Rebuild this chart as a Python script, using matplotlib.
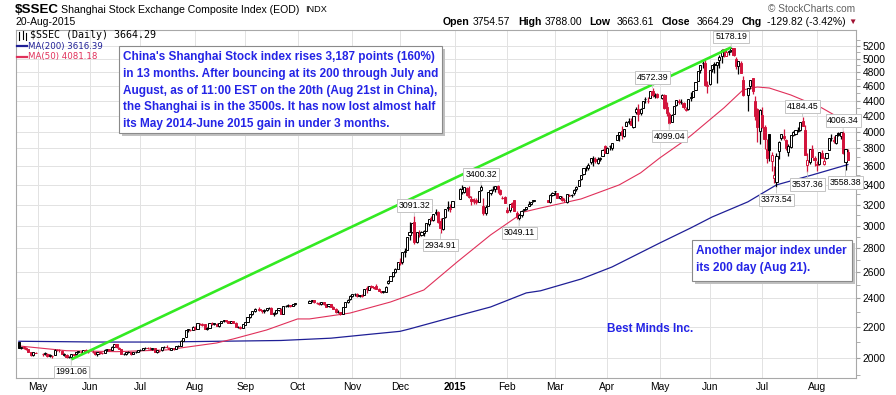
import numpy as np
import pandas as pd
import matplotlib
matplotlib.use("Agg")
import matplotlib.pyplot as plt
from matplotlib.patches import Rectangle
from matplotlib.lines import Line2D
from matplotlib.ticker import FixedLocator, NullFormatter

plt.rcParams['font.family'] = ['Liberation Sans', 'DejaVu Sans']

# dias de mercado cerrado (feriados chinos) dentro del rango
feriados = ['2014-05-01', '2014-05-02', '2014-06-02', '2014-09-08',
            '2014-10-01', '2014-10-02', '2014-10-03', '2014-10-06', '2014-10-07',
            '2015-01-01', '2015-01-02', '2015-02-18', '2015-02-19', '2015-02-20',
            '2015-02-23', '2015-02-24', '2015-04-06', '2015-05-01', '2015-06-22']

# OHLC diario, un renglon por mes (abr-2014 .. ago-2015)
opens = [
    2098, 2062, 2066, 2060, 2055, 2034, 2019, 2033,
    2022, 2026, 2027, 2010, 2015, 2020, 2050, 2049, 2046, 2021, 2020, 2004, 2005, 2023, 2022, 2035, 2040, 2033, 2049, 2040,
    2040, 2037, 2024, 2034, 2029, 2030, 2052, 2054, 2050, 2070, 2086, 2065, 2055, 2023, 2025, 2034, 2037, 2026, 2037, 2037,
    2048, 2050, 2059, 2062, 2058, 2057, 2059, 2037, 2046, 2047, 2066, 2071, 2065, 2052, 2059, 2055, 2076, 2077, 2109, 2131, 2178, 2182, 2182,
    2197, 2188, 2221, 2215, 2217, 2186, 2195, 2224, 2219, 2222, 2204, 2227, 2240, 2244, 2238, 2228, 2240, 2227, 2198, 2200, 2195,
    2215, 2234, 2266, 2287, 2307, 2327, 2314, 2308, 2318, 2330, 2331, 2288, 2295, 2316, 2327, 2291, 2342, 2346, 2349, 2348, 2358,
    2369, 2384, 2385, 2370, 2366, 2358, 2371, 2356, 2342, 2356, 2339, 2325, 2303, 2301, 2291, 2338, 2372, 2393,
    2420, 2430, 2431, 2417, 2425, 2425, 2475, 2466, 2494, 2484, 2496, 2473, 2455, 2447, 2451, 2514, 2532, 2568, 2605, 2630,
    2679, 2680, 2766, 2783, 2913, 2945, 3029, 2850, 2926, 2918, 2933, 2950, 3013, 3075, 3055, 3120, 3123, 3040, 2973, 3077, 3177, 3155, 3173,
    3258, 3330, 3326, 3371, 3276, 3259, 3224, 3243, 3224, 3343, 3189, 3119, 3189, 3318, 3357, 3357, 3391, 3346, 3266, 3274,
    3148, 3142, 3213, 3242, 3121, 3069, 3096, 3145, 3158, 3186, 3209, 3232, 3248, 3222, 3299,
    3332, 3317, 3264, 3264, 3248, 3224, 3289, 3291, 3313, 3358, 3391, 3464, 3513, 3583, 3578, 3640, 3693, 3683, 3637, 3676, 3710, 3823,
    3748, 3828, 3803, 3899, 3962, 4004, 3947, 4072, 4125, 4134, 4052, 4247, 4288, 4234, 4304, 4415, 4394, 4441, 4535, 4458, 4483,
    4441, 4480, 4311, 4222, 4126, 4221, 4341, 4393, 4385, 4366, 4277, 4285, 4430, 4445, 4548, 4673, 4833, 4933, 4943, 4603,
    4633, 4845, 4924, 4912, 4985, 5045, 5145, 5050, 5102, 5144, 5174, 5004, 4890, 4942, 4690, 4471, 4604, 4711, 4400, 4289, 4006,
    4214, 4058, 3793, 3975, 3654, 3467, 3433, 3772, 3924, 3951, 3895, 3757, 3811, 3961, 3969, 4013, 4022, 4127, 4019, 3612, 3644, 3794, 3688,
    3614, 3621, 3750, 3627, 3690, 3786, 3920, 3904, 3862, 3986, 3946, 3987, 3646, 3754.57]
highs = [
    2099, 2070, 2073, 2068, 2058, 2036, 2035, 2039,
    2030, 2034, 2029, 2026, 2020, 2053, 2056, 2056, 2048, 2030, 2022, 2014, 2026, 2027, 2036, 2044, 2042, 2052, 2053, 2045,
    2047, 2039, 2036, 2038, 2034, 2054, 2058, 2057, 2072, 2090, 2088, 2068, 2057, 2031, 2035, 2044, 2039, 2040, 2042, 2052,
    2055, 2063, 2067, 2066, 2067, 2063, 2062, 2050, 2052, 2069, 2074, 2078, 2068, 2063, 2063, 2077, 2082, 2110, 2129, 2178, 2186, 2187, 2203,
    2204, 2224, 2227, 2225, 2220, 2198, 2226, 2230, 2228, 2229, 2227, 2243, 2248, 2248, 2242, 2243, 2243, 2230, 2206, 2203, 2219,
    2236, 2267, 2291, 2308, 2328, 2335, 2318, 2322, 2333, 2340, 2335, 2302, 2318, 2331, 2329, 2344, 2349, 2356, 2355, 2361, 2368,
    2391, 2392, 2387, 2377, 2373, 2376, 2377, 2361, 2361, 2359, 2345, 2329, 2313, 2304, 2338, 2376, 2394, 2423,
    2435, 2437, 2442, 2428, 2430, 2474, 2495, 2495, 2504, 2489, 2507, 2478, 2458, 2457, 2490, 2538, 2568, 2606, 2631, 2685,
    2717, 2763, 2800, 2900, 3030, 3022, 3091.32, 2941, 2964, 2951, 2958, 3023, 3064, 3085, 3110, 3157, 3136, 3069, 3074, 3158, 3239, 3206, 3239,
    3369, 3394, 3374, 3374, 3389, 3283, 3260, 3266, 3337, 3400.32, 3262, 3196, 3325, 3354, 3387, 3384, 3395, 3358, 3289, 3288,
    3176, 3205, 3226, 3244, 3141, 3104, 3142, 3160, 3177, 3231, 3229, 3247, 3249, 3300, 3325,
    3336, 3317, 3286, 3280, 3265, 3305, 3300, 3305, 3357, 3384, 3449, 3503, 3578, 3600, 3632, 3689, 3715, 3703, 3704, 3706, 3795, 3835,
    3817, 3835, 3866, 3961, 4000, 4069, 4034, 4128, 4168, 4175, 4195, 4317, 4356, 4300, 4398, 4444, 4442, 4529, 4572.39, 4499, 4504,
    4488, 4490, 4387, 4243, 4218, 4333, 4402, 4415, 4420, 4382, 4319, 4417, 4510, 4531, 4658, 4814, 4911, 4959, 4986, 4668,
    4829, 4911, 4951, 4947, 5052, 5147, 5147, 5164, 5129, 5178.19, 5176, 5029, 4968, 4966, 4744, 4577, 4691, 4720, 4456, 4297, 4287,
    4317, 4081, 3916, 3975, 3762, 3606, 3748, 3885, 3976, 4030, 3916, 3856, 3958, 4006, 4025, 4058, 4125, 4184.45, 4084, 3749, 3789, 3840, 3718,
    3654, 3757, 3782, 3696, 3747, 3929, 3970, 3944, 3955, 4000, 3994, 4006.34, 3794, 3788.00]
lows = [
    2064, 2053, 2055, 2050, 2034, 2011, 2014, 2028,
    2014, 2019, 2008, 2004, 2002, 2018, 2043, 2040, 2022, 2013, 2002, 2000, 1991.06, 2013, 2018, 2031, 2030, 2030, 2037, 2033,
    2032, 2021, 2015, 2026, 2022, 2029, 2046, 2044, 2049, 2066, 2063, 2053, 2022, 2016, 2017, 2030, 2020, 2024, 2029, 2035,
    2043, 2048, 2055, 2055, 2053, 2048, 2036, 2033, 2038, 2045, 2060, 2062, 2051, 2048, 2049, 2053, 2070, 2076, 2104, 2130, 2168, 2173, 2179,
    2180, 2185, 2210, 2205, 2185, 2180, 2194, 2213, 2212, 2204, 2201, 2223, 2234, 2233, 2224, 2225, 2227, 2196, 2193, 2187, 2194,
    2212, 2231, 2262, 2282, 2303, 2310, 2292, 2298, 2310, 2323, 2288, 2276, 2290, 2309, 2288, 2290, 2335, 2340, 2336, 2343, 2352,
    2366, 2375, 2365, 2358, 2351, 2353, 2350, 2336, 2338, 2337, 2325, 2298, 2295, 2281, 2289, 2336, 2368, 2392,
    2413, 2418, 2407, 2410, 2411, 2423, 2442, 2462, 2478, 2470, 2473, 2455, 2440, 2442, 2449, 2505, 2528, 2565, 2593, 2626,
    2662, 2669, 2726, 2780, 2872, 2930, 2834, 2843, 2897, 2906, 2910, 2949, 2995, 3038, 3040, 3097, 3023, 2934.91, 2964, 3070, 3139, 3131, 3173,
    3253, 3303, 3312, 3285, 3267, 3191, 3208, 3208, 3224, 3339, 3095, 3102, 3188, 3295, 3333, 3327, 3318, 3295, 3250, 3210,
    3116, 3130, 3172, 3136, 3065, 3049.11, 3083, 3139, 3148, 3183, 3200, 3227, 3222, 3210, 3287,
    3298, 3260, 3250, 3234, 3226, 3218, 3281, 3275, 3290, 3340, 3385, 3450, 3503, 3546, 3559, 3628, 3600, 3630, 3625, 3660, 3710, 3742,
    3743, 3783, 3785, 3899, 3892, 3912, 3936, 4072, 4098, 4084, 4044, 4221, 4137, 4213, 4294, 4373, 4364, 4441, 4445, 4432, 4441,
    4415, 4282, 4198, 4099.04, 4126, 4217, 4323, 4351, 4357, 4290, 4263, 4273, 4397, 4445, 4540, 4673, 4794, 4866, 4598, 4496,
    4616, 4797, 4781, 4647, 4855, 4942, 5035, 5050, 5060, 5103, 5048, 4842, 4767, 4780, 4459, 4264, 4552, 4483, 4140, 3876, 3848,
    4043, 3795, 3629, 3654, 3541, 3421, 3373.54, 3675, 3903, 3895, 3782, 3714, 3810, 3943, 3958, 3998, 4009, 4069, 3726, 3537.36, 3626, 3704, 3600,
    3549, 3617, 3691, 3617, 3675, 3786, 3891, 3863, 3846, 3942, 3913, 3741, 3558.38, 3663.61]
closes = [
    2065, 2067, 2060, 2056, 2036, 2020, 2034, 2033,
    2027, 2028, 2010, 2016, 2011, 2052, 2050, 2047, 2024, 2026, 2005, 2008, 2024, 2021, 2034, 2041, 2034, 2050, 2040, 2039,
    2038, 2024, 2035, 2030, 2029, 2052, 2054, 2051, 2070, 2087, 2066, 2056, 2024, 2026, 2034, 2038, 2025, 2036, 2036, 2048,
    2050, 2060, 2063, 2059, 2057, 2060, 2038, 2047, 2046, 2067, 2071, 2066, 2055, 2060, 2055, 2076, 2076, 2109, 2127, 2177, 2183, 2182, 2201,
    2186, 2223, 2219, 2218, 2187, 2194, 2225, 2220, 2223, 2206, 2226, 2241, 2245, 2240, 2229, 2241, 2229, 2197, 2201, 2195, 2217,
    2235, 2266, 2288, 2306, 2326, 2318, 2307, 2319, 2331, 2333, 2290, 2296, 2315, 2329, 2290, 2343, 2345, 2350, 2347, 2357, 2364,
    2383, 2389, 2374, 2366, 2359, 2373, 2357, 2341, 2357, 2339, 2327, 2302, 2302, 2290, 2337, 2373, 2391, 2420,
    2430, 2430, 2419, 2425, 2418, 2473, 2469, 2494, 2485, 2478, 2474, 2456, 2450, 2452, 2487, 2533, 2567, 2604, 2630, 2683,
    2680, 2763, 2779, 2899, 2938, 3020, 2856, 2940, 2925, 2938, 2953, 3021, 3061, 3058, 3108, 3128, 3032, 2977, 3073, 3157, 3169, 3166, 3235,
    3351, 3352, 3374, 3294, 3285, 3230, 3223, 3222, 3336, 3376, 3116, 3173, 3323, 3343, 3351, 3383, 3352, 3305, 3262, 3210,
    3128, 3204, 3174, 3136, 3076, 3095, 3141, 3158, 3173, 3203, 3223, 3246, 3228, 3298, 3311,
    3336, 3263, 3280, 3248, 3241, 3302, 3286, 3290, 3349, 3372, 3449, 3502, 3577, 3582, 3617, 3687, 3691, 3661, 3683, 3691, 3786, 3748,
    3810, 3825, 3863, 3961, 3995, 3957, 4034, 4121, 4135, 4084, 4194, 4287, 4217, 4293, 4398, 4414, 4393, 4527, 4476, 4476, 4442,
    4480, 4298, 4229, 4112, 4205, 4333, 4401, 4375, 4378, 4308, 4283, 4417, 4446, 4529, 4657, 4813, 4910, 4942, 4621, 4611,
    4828, 4910, 4910, 4947, 5023, 5131, 5113, 5106, 5121, 5166, 5062, 4887, 4967, 4785, 4478, 4576, 4691, 4527, 4193, 4053, 4277,
    4053, 3912, 3687, 3776, 3727, 3507, 3710, 3877, 3970, 3924, 3805, 3823, 3957, 3992, 4017, 4026, 4124, 4070, 3725, 3663, 3789, 3705, 3664,
    3623, 3756, 3695, 3661, 3744, 3928, 3928, 3887, 3955, 3965, 3993, 3749, 3794, 3664.29]

# medias moviles
ma200_fechas = ['2014-04-21', '2014-06-06', '2014-07-11', '2014-08-15', '2014-09-22', '2014-10-21',
                '2014-11-12', '2014-12-01', '2014-12-05', '2015-01-02', '2015-01-22', '2015-02-12',
                '2015-02-20', '2015-03-17', '2015-04-03', '2015-05-01', '2015-05-20', '2015-06-02',
                '2015-06-23', '2015-07-09', '2015-07-30', '2015-08-20']
ma200_valores = [2105, 2100, 2100, 2105, 2110, 2125, 2150, 2170, 2186, 2275, 2338, 2441,
                 2457, 2547, 2643, 2844, 2978, 3080, 3226, 3398, 3503, 3616.39]
ma50_fechas = ['2014-04-21', '2014-05-19', '2014-06-17', '2014-07-16', '2014-08-14', '2014-08-25',
               '2014-09-12', '2014-10-01', '2014-10-08', '2014-10-31', '2014-11-25', '2014-12-15',
               '2015-01-02', '2015-01-22', '2015-02-11', '2015-02-20', '2015-03-17', '2015-04-08',
               '2015-04-21', '2015-05-01', '2015-05-14', '2015-05-20', '2015-06-09', '2015-06-19',
               '2015-06-29', '2015-07-06', '2015-07-17', '2015-08-05', '2015-08-18', '2015-08-20']
ma50_valores = [2075, 2045, 2039, 2050, 2094, 2120, 2179, 2254, 2254, 2295, 2374, 2463,
                2684, 2915, 3128, 3166, 3255, 3398, 3526, 3690, 3864, 3950, 4303, 4546,
                4586, 4572, 4476, 4303, 4145, 4081.18]

# maximos / minimos marcados
pivot_fechas = ['2014-05-21', '2014-12-09', '2014-12-24', '2015-01-16', '2015-02-09', '2015-04-28',
                '2015-05-07', '2015-06-12', '2015-07-09', '2015-07-24', '2015-07-28', '2015-08-18',
                '2015-08-19']
pivot_valores = [1991.06, 3091.32, 2934.91, 3400.32, 3049.11, 4572.39,
                 4099.04, 5178.19, 3373.54, 4184.45, 3537.36, 4006.34, 3558.38]
pivot_tipo = ['lo', 'hi', 'lo', 'hi', 'lo', 'hi', 'lo', 'hi', 'lo', 'hi', 'lo', 'hi', 'lo']

tendencia_fechas = ['2014-05-21', '2015-06-12']
tendencia_valores = [1991.06, 5178.19]

meses = ['May', 'Jun', 'Jul', 'Aug', 'Sep', 'Oct', 'Nov', 'Dec', '2015',
         'Feb', 'Mar', 'Apr', 'May', 'Jun', 'Jul', 'Aug']
meses_inicio = ['2014-05-01', '2014-06-01', '2014-07-01', '2014-08-01', '2014-09-01', '2014-10-01',
                '2014-11-01', '2014-12-01', '2015-01-01', '2015-02-01', '2015-03-01', '2015-04-01',
                '2015-05-01', '2015-06-01', '2015-07-01', '2015-08-01']

# --- posiciones: un lugar por dia habil (los feriados quedan como hueco)
dias = pd.bdate_range('2014-04-21', '2015-08-20')
pos = {d: i for i, d in enumerate(dias)}
operados = dias[~dias.isin(pd.to_datetime(feriados))]
assert len(operados) == len(closes) == len(opens) == len(highs) == len(lows)

def xpos(fechas):
    return np.array([pos[pd.Timestamp(f)] for f in fechas])

x = np.array([pos[d] for d in operados])
o = np.array(opens, float); h = np.array(highs, float)
l = np.array(lows, float); c = np.array(closes, float)

W, H = 896, 395
def fx(px): return px / W
def fy(py): return 1 - py / H

fig = plt.figure(figsize=(W / 100, H / 100), dpi=100)
ax = fig.add_axes([fx(16), fy(378), fx(856) - fx(16), fy(30) - fy(378)])
ax.set_yscale('log')

ROJO = '#d3143c'
prev = np.r_[c[0], c[:-1]]
col = np.where(c < prev, ROJO, 'black')
cara = np.where(c < o, col, 'white')

ax.vlines(x, l, h, colors=col, lw=0.9, zorder=3)
ax.bar(x, np.abs(c - o), bottom=np.minimum(o, c), width=0.9, color=cara,
       edgecolor=col, linewidth=0.7, zorder=4)

ax.plot(xpos(ma200_fechas), ma200_valores, color='#1f1f96', lw=0.9, zorder=2)
ax.plot(xpos(ma50_fechas), ma50_valores, color='#e0305a', lw=0.8, zorder=2)
ax.plot(xpos(tendencia_fechas), tendencia_valores, color='#33ea22', lw=1.9, zorder=5,
        solid_capstyle='butt')

for f, v, t in zip(pivot_fechas, pivot_valores, pivot_tipo):
    dy = 7.5 if t == 'hi' else -9
    ax.annotate(f'{v:.2f}', xy=(pos[pd.Timestamp(f)], v), xytext=(0, dy),
                textcoords='offset points', ha='center', va='center', fontsize=6.3,
                bbox=dict(boxstyle='square,pad=0.2', fc='white', ec='#c4c4c4', lw=0.7),
                arrowprops=dict(arrowstyle='-', color='#c4c4c4', lw=0.6, shrinkA=0, shrinkB=0),
                annotation_clip=False, zorder=7)

# ejes
ax.set_xlim(-1.2, 351.4)
ax.set_ylim(1881, 5461)
ax.yaxis.tick_right()
ax.yaxis.set_major_locator(FixedLocator(np.arange(2000, 5201, 200)))
ax.yaxis.set_minor_locator(FixedLocator(np.arange(1900, 5500, 200)))
ax.yaxis.set_major_formatter(matplotlib.ticker.FuncFormatter(lambda v, p: f'{v:.0f}'))
ax.yaxis.set_minor_formatter(NullFormatter())
ax.tick_params(axis='y', which='both', labelsize=7.4, length=3, color='#a0a0a0', pad=2)
ax.set_xticks(xpos([pd.Timestamp(m) + pd.offsets.BDay(0) for m in meses_inicio]))
ax.set_xticklabels(meses)
ax.tick_params(axis='x', length=0, labelsize=7.4, pad=3)
for t in ax.get_xticklabels():
    if t.get_text() == '2015':
        t.set_fontweight('bold')
ax.grid(True, which='major', color='#e2e2e2', lw=0.7, zorder=0)
for s in ax.spines.values():
    s.set_color('#a8a8a8')
    s.set_linewidth(0.8)

# encabezado
fig.text(fx(15), fy(10), '$SSEC', fontsize=9.6, fontweight='bold', va='center')
fig.text(fx(61), fy(10), 'Shanghai Stock Exchange Composite Index (EOD)', fontsize=7.6, va='center')
fig.text(fx(305), fy(10), 'INDX', fontsize=6.6, va='center')
fig.text(fx(15), fy(22), '20-Aug-2015', fontsize=7.5, va='center')
fig.text(fx(855), fy(9), '\u00a9 StockCharts.com', fontsize=7.3, color='#606060', va='center', ha='right')
partes = [(443, 'Open', True), (473, '3754.57', False), (518, 'High', True), (545, '3788.00', False),
          (589, 'Low', True), (617, '3663.61', False), (662, 'Close', True), (697, '3664.29', False),
          (742, 'Chg', True), (767, '-129.82 (-3.42%)', False)]
for px, s, negrita in partes:
    fig.text(fx(px), fy(22), s, fontsize=7.6 if negrita else 7.5,
             fontweight='bold' if negrita else 'normal', va='center')
fig.text(fx(848), fy(22), '\u25bc', fontsize=6, color='#a01030', va='center')

# leyenda
fig.add_artist(Line2D([fx(19), fx(19)], [fy(32), fy(40)], color='black', lw=0.8))
fig.add_artist(Line2D([fx(23), fx(23)], [fy(31), fy(39)], color='black', lw=0.8))
fig.add_artist(Line2D([fx(26), fx(26)], [fy(33), fy(40)], color='black', lw=0.8))
fig.text(fx(30), fy(35), '$SSEC (Daily) 3664.29', fontsize=7.2, family='DejaVu Sans Mono', va='center')
fig.add_artist(Line2D([fx(17), fx(27)], [fy(46), fy(46)], color='#1f1f96', lw=1.6))
fig.text(fx(28), fy(46), 'MA(200) 3616.39', fontsize=6.2, family='DejaVu Sans', color='#1f1f96', va='center')
fig.add_artist(Line2D([fx(17), fx(27)], [fy(57), fy(57)], color='#e0305a', lw=1.6))
fig.text(fx(28), fy(57), 'MA(50) 4081.18', fontsize=6.2, family='DejaVu Sans', color='#e0305a', va='center')

# cuadros de texto
AZUL = '#2424e6'
def cuadro(x0, y0, x1, y1):
    fig.add_artist(Rectangle((fx(x0 + 3), fy(y1 + 3)), fx(x1) - fx(x0), fy(y0) - fy(y1),
                             transform=fig.transFigure, fc='#c0c0c0', ec='none', zorder=8))
    fig.add_artist(Rectangle((fx(x0), fy(y1)), fx(x1) - fx(x0), fy(y0) - fy(y1),
                             transform=fig.transFigure, fc='white', ec='#8a8a8a', lw=0.8, zorder=9))

cuadro(119, 46, 442, 133)
lineas = ["China's Shanghai Stock index rises 3,187 points (160%)",
          "in 13 months. After bouncing at its 200 through July and",
          "August, as of 11:00 EST on the 20th (Aug 21st in China),",
          "the Shanghai is in the 3500s. It has now lost almost half",
          "its May 2014-June 2015 gain in under 3 months."]
for i, s in enumerate(lineas):
    fig.text(fx(123), fy(57 + i * 16.8), s, fontsize=8.5, fontweight='bold', color=AZUL,
             va='center', zorder=10)

cuadro(692, 240, 852, 281)
for i, s in enumerate(['Another major index under', 'its 200 day (Aug 21).']):
    fig.text(fx(696), fy(251 + i * 17), s, fontsize=8.5, fontweight='bold', color=AZUL,
             va='center', zorder=10)

fig.text(fx(607), fy(329), 'Best Minds Inc.', fontsize=8.5, fontweight='bold', color=AZUL, va='center')

fig.savefig('out.png', dpi=100)
